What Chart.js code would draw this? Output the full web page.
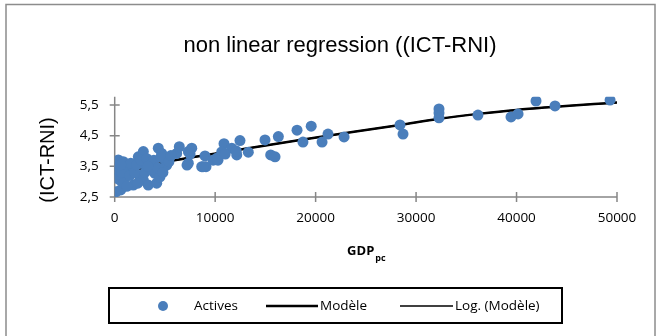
<!DOCTYPE html>
<html>
<head>
<meta charset="utf-8">
<script src="https://cdn.jsdelivr.net/npm/chart.js@4/dist/chart.umd.min.js"></script>
<style>
  html, body { margin: 0; padding: 0; background: #fff; }
</style>
</head>
<body>
<canvas id="myChart" width="660" height="336"></canvas>
<script>
// data
const activesX = [130, 600, 360, 860, 200, 200, 530, 1190, 1030, 1850, 1850, 2350, 2850, 2850, 2520, 2850, 3340, 3510, 4010, 4180,
  4340, 4680, 4510, 5010, 5180, 6170, 6430, 7330, 7330, 7670, 8660, 9090, 8990, 10150, 10880, 10650, 11650, 12150, 12470, 13300,
  14960, 15530, 15960, 16290, 18150, 19560, 18740, 20640, 21230, 22830, 28400, 28700, 32280, 32280, 32280, 36160, 39450, 40150, 41940, 43830,
  49310, 300, 400, 700, 900, 1500, 1600, 2000, 2200, 2600, 3000, 3200, 3700, 3900, 4300, 4600, 5400, 4800, 5600, 2300,
  1200, 600, 3300, 7200, 8790, 9800, 10280, 11000, 12100, 7500];
const activesY = [2.67, 2.73, 3.71, 3.65, 3.38, 3.11, 3.05, 3.38, 3.16, 2.89, 3.44, 3.81, 3.98, 3.60, 3.16, 3.05, 2.89, 3.60, 3.27, 2.95,
  4.09, 3.92, 3.16, 3.71, 3.54, 3.92, 4.14, 3.60, 3.98, 4.09, 3.49, 3.49, 3.84, 3.76, 4.24, 3.97, 4.09, 3.87, 4.34, 3.96,
  4.36, 3.87, 3.81, 4.47, 4.68, 4.81, 4.29, 4.29, 4.55, 4.46, 4.85, 4.55, 5.37, 5.24, 5.08, 5.17, 5.11, 5.21, 5.63, 5.47,
  5.66, 3.25, 3.50, 3.30, 2.95, 3.20, 3.60, 3.30, 3.55, 3.70, 3.30, 3.75, 3.40, 3.70, 3.45, 3.80, 3.65, 3.30, 3.85, 2.95,
  2.85, 3.55, 3.50, 3.54, 3.49, 3.70, 3.70, 3.90, 4.00, 3.90];

const modelX = [300, 1500, 3000, 5240, 11860, 18450, 28400, 32310, 36190, 40010, 50000];
const modelY = [3.05, 3.30, 3.47, 3.65, 4.01, 4.36, 4.85, 5.05, 5.21, 5.34, 5.58];

const logX = [300, 1500, 3000, 5240, 11860, 18450, 28400, 32310, 36190, 40010, 50000];
const logY = [3.05, 3.30, 3.47, 3.65, 4.01, 4.36, 4.85, 5.05, 5.21, 5.34, 5.58];

const xTicks = [0, 10000, 20000, 30000, 40000, 50000];
const yTicks = [2.5, 3.5, 4.5, 5.5];

const chartTitle = 'non linear regression ((ICT-RNI)';
const yTitle = '(ICT-RNI)';
const seriesNames = ['Actives', 'Modèle', 'Log. (Modèle)'];

const blue = '#4a7ebb';
const axisGray = '#868686';

function pts(xs, ys) {
  return xs.map((x, i) => ({ x: x, y: ys[i] }));
}

// axes, frame, titles and legend drawn the Excel way
const excelLook = {
  id: 'excelLook',
  beforeDraw(chart) {
    const c = chart.ctx;
    c.save();
    c.fillStyle = '#fff';
    c.fillRect(0, 0, chart.width, chart.height);
    c.strokeStyle = '#8c8c8c';
    c.lineWidth = 1.5;
    c.strokeRect(6, 4.5, 649, 340);
    c.restore();
  },
  beforeDatasetsDraw(chart) {
    const c = chart.ctx;
    const xs = chart.scales.x, ys = chart.scales.y;
    const a = chart.chartArea;
    c.save();
    c.strokeStyle = axisGray;
    c.lineWidth = 1.5;
    c.beginPath();
    c.moveTo(a.left, a.top);
    c.lineTo(a.left, a.bottom);
    c.lineTo(a.right, a.bottom);
    yTicks.forEach(v => {
      const p = ys.getPixelForValue(v);
      c.moveTo(a.left - 5, p);
      c.lineTo(a.left + 5, p);
    });
    xTicks.forEach(v => {
      const p = xs.getPixelForValue(v);
      c.moveTo(p, a.bottom - 5);
      c.lineTo(p, a.bottom + 5);
    });
    c.stroke();
    c.restore();
  },
  afterDraw(chart) {
    const c = chart.ctx;
    const a = chart.chartArea;
    c.save();
    c.fillStyle = '#000';
    c.textBaseline = 'middle';

    // title
    c.font = '22px "Liberation Sans", Arial, sans-serif';
    c.textAlign = 'center';
    c.fillText(chartTitle, 340, 46);

    // y title
    c.save();
    c.translate(48, 160);
    c.rotate(-Math.PI / 2);
    c.font = '20px "Liberation Sans", Arial, sans-serif';
    c.fillText(yTitle, 0, 0);
    c.restore();

    // x title with subscript
    const cx = (a.left + a.right) / 2;
    c.font = 'bold 13px "Open Sans", sans-serif';
    const w1 = c.measureText('GDP').width;
    c.font = 'bold 9px "Open Sans", sans-serif';
    const w2 = c.measureText('pc').width;
    const x0 = cx - (w1 + w2) / 2;
    c.textAlign = 'left';
    c.font = 'bold 13px "Open Sans", sans-serif';
    c.fillText('GDP', x0, 251);
    c.font = 'bold 9px "Open Sans", sans-serif';
    c.fillText('pc', x0 + w1 + 1, 258);

    // legend box
    c.strokeStyle = '#000';
    c.lineWidth = 2;
    c.strokeRect(109, 288, 453, 35);
    const ly = 306;
    c.font = '13.5px "Open Sans", sans-serif';
    c.fillStyle = blue;
    c.beginPath();
    c.arc(163, ly, 5, 0, Math.PI * 2);
    c.fill();
    c.fillStyle = '#000';
    c.fillText(seriesNames[0], 194, ly);
    c.lineWidth = 2.5;
    c.beginPath();
    c.moveTo(266, ly);
    c.lineTo(318, ly);
    c.stroke();
    c.fillText(seriesNames[1], 320, ly);
    c.lineWidth = 1.5;
    c.beginPath();
    c.moveTo(400, ly);
    c.lineTo(453, ly);
    c.stroke();
    c.fillText(seriesNames[2], 455, ly);
    c.restore();
  }
};

const ctx = document.getElementById('myChart').getContext('2d');
const chart = new Chart(ctx, {
  type: 'scatter',
  data: {
    datasets: [
      {
        label: seriesNames[0],
        data: pts(activesX, activesY),
        backgroundColor: blue,
        borderWidth: 0,
        pointRadius: 5.5,
        order: 0
      },
      {
        label: seriesNames[1],
        data: pts(modelX, modelY),
        showLine: true,
        borderColor: '#000',
        borderWidth: 2.5,
        pointRadius: 0,
        cubicInterpolationMode: 'monotone',
        order: 2
      },
      {
        label: seriesNames[2],
        data: pts(logX, logY),
        showLine: true,
        borderColor: '#000',
        borderWidth: 1.5,
        pointRadius: 0,
        cubicInterpolationMode: 'monotone',
        order: 1
      }
    ]
  },
  options: {
    responsive: false,
    animation: false,
    devicePixelRatio: 1,
    layout: {
      padding: { left: 0, right: 43, top: 96.7, bottom: 109 }
    },
    plugins: {
      legend: { display: false },
      title: { display: false },
      tooltip: { enabled: false }
    },
    scales: {
      x: {
        type: 'linear',
        min: 0,
        max: 50000,
        afterBuildTicks: s => { s.ticks = xTicks.map(v => ({ value: v })); },
        afterFit: s => { s.height = 30; },
        grid: { display: false, drawTicks: false },
        border: { display: false },
        ticks: {
          color: '#000',
          padding: 13,
          maxRotation: 0,
          font: { family: '"Open Sans", sans-serif', size: 13.5 },
          callback: v => String(v)
        }
      },
      y: {
        min: 2.5,
        max: 5.77,
        afterBuildTicks: s => { s.ticks = yTicks.map(v => ({ value: v })); },
        afterFit: s => { s.width = 114.7; },
        grid: { display: false, drawTicks: false },
        border: { display: false },
        ticks: {
          color: '#000',
          padding: 16,
          font: { family: '"Open Sans", sans-serif', size: 13.5 },
          callback: v => v.toFixed(1).replace('.', ',')
        }
      }
    }
  },
  plugins: [excelLook]
});
</script>
</body>
</html>
